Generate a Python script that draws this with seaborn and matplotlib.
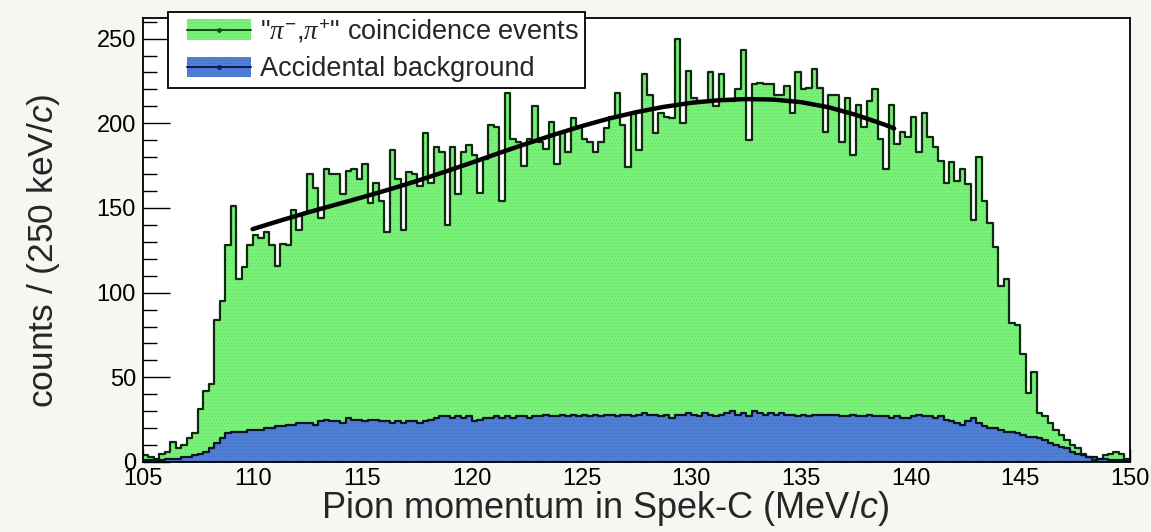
import numpy as np
import pandas as pd
import matplotlib
matplotlib.use('Agg')
import matplotlib.pyplot as plt
import seaborn as sns
from matplotlib.patches import Rectangle
from matplotlib.lines import Line2D
from matplotlib.legend_handler import HandlerBase
from matplotlib.ticker import MultipleLocator

# Histogram range: 105 - 150 MeV/c in 250 keV/c bins
p_min, p_max, bin_width = 105.0, 150.0, 0.25

# "pi-,pi+" coincidence events per bin
coincidence_counts = [
    4, 3, 2, 5, 6, 12, 8, 10, 14, 17,
    31, 42, 46, 84, 95, 128, 151, 108, 115, 128,
    134, 132, 136, 128, 116, 129, 128, 149, 137, 147,
    170, 162, 144, 173, 170, 170, 158, 172, 173, 167,
    176, 153, 165, 154, 136, 184, 167, 137, 171, 170,
    163, 194, 165, 186, 183, 140, 186, 158, 183, 187,
    181, 159, 179, 199, 198, 154, 218, 191, 189, 175,
    191, 210, 189, 185, 201, 176, 195, 183, 203, 198,
    191, 189, 183, 189, 197, 204, 218, 199, 174, 206,
    184, 229, 217, 194, 206, 204, 203, 250, 200, 231,
    215, 213, 213, 230, 210, 229, 213, 213, 220, 243,
    190, 223, 224, 223, 223, 217, 217, 222, 206, 230,
    220, 221, 232, 221, 195, 217, 217, 189, 215, 181,
    211, 198, 213, 220, 191, 173, 211, 188, 195, 192,
    204, 183, 206, 192, 186, 178, 165, 177, 166, 173,
    164, 143, 180, 154, 141, 127, 104, 108, 82, 81,
    64, 41, 53, 29, 27, 23, 19, 16, 13, 10,
    8, 5, 3, 1, 2, 4, 5, 6, 5, 2,
]

# accidental background per bin
background_counts = [
    1, 1, 1, 1, 2, 2, 2, 3, 3, 4,
    5, 6, 8, 11, 14, 17, 18, 18, 18, 19,
    19, 19, 20, 20, 21, 21, 22, 22, 23, 23,
    23, 22, 24, 25, 24, 24, 23, 26, 25, 25,
    24, 25, 25, 24, 24, 23, 24, 23, 24, 24,
    23, 24, 25, 26, 27, 27, 26, 27, 26, 27,
    24, 25, 26, 26, 27, 26, 27, 26, 27, 27,
    26, 27, 27, 28, 27, 27, 28, 27, 28, 27,
    28, 27, 28, 27, 28, 28, 27, 28, 28, 27,
    28, 29, 28, 28, 27, 28, 26, 28, 28, 29,
    28, 27, 29, 28, 27, 28, 29, 30, 28, 29,
    27, 30, 29, 28, 29, 28, 29, 28, 28, 27,
    28, 27, 28, 28, 28, 28, 28, 27, 27, 28,
    27, 27, 28, 27, 27, 27, 26, 27, 26, 26,
    27, 28, 27, 27, 26, 27, 25, 24, 23, 22,
    24, 26, 23, 21, 20, 20, 19, 18, 18, 17,
    16, 15, 15, 14, 13, 11, 10, 9, 8, 6,
    5, 4, 3, 3, 2, 2, 1, 1, 1, 1,
]

# fit curve sampled along its length
fit_momentum = [110, 111.25, 112.5, 113.75, 115, 116.25, 117.5, 118.75, 120, 121.25,
                122.5, 123.75, 125, 126.25, 127.5, 128.75, 130, 131.25, 132.5, 133.75,
                135, 136.25, 137.5, 138.75, 139.25]
fit_counts = [137.5, 142.5, 147.3, 151.8, 156.3, 161, 166, 171.3, 176.8, 182.5,
              188, 193.3, 198.3, 202.8, 206.6, 209.7, 212.1, 213.6, 214.3, 214,
              212.5, 209.5, 205, 199.5, 197]

edges = np.arange(p_min, p_max + bin_width / 2, bin_width)
centers = (edges[:-1] + edges[1:]) / 2
bin_list = edges.tolist()
hist = pd.DataFrame({'p': centers, 'total': coincidence_counts, 'bkg': background_counts})

green = '#7af27a'
green_dots = '#68de68'
green_edge = '#0f2a0f'
blue = '#4f80d6'
blue_dots = '#4170c6'
blue_edge = '#0b1424'


class LegendKey:
    def __init__(self, face, dots, line):
        self.face, self.dots, self.line = face, dots, line


class KeyHandler(HandlerBase):
    # filled box with the histogram line through its middle, inset from the left
    def create_artists(self, legend, orig_handle, xdescent, ydescent, width, height,
                       fontsize, trans):
        inset = 0.17 * width
        x0 = -xdescent + inset
        w = width - inset
        ymid = -ydescent + height / 2
        box = Rectangle((x0, -ydescent), w, height, facecolor=orig_handle.face,
                        edgecolor=orig_handle.dots, hatch='.....', linewidth=0,
                        transform=trans)
        line = Line2D([x0, x0 + w], [ymid, ymid], color=orig_handle.line,
                      linewidth=1.5, transform=trans)
        dot = Line2D([x0 + w / 2], [ymid], marker='o', markersize=2.5, linestyle='none',
                     color=orig_handle.line, transform=trans)
        return [box, line, dot]


sns.set_theme(style='ticks')
plt.rcParams['font.family'] = ['Liberation Sans', 'DejaVu Sans']
plt.rcParams['mathtext.fontset'] = 'custom'
plt.rcParams['mathtext.rm'] = 'Liberation Sans'
plt.rcParams['mathtext.it'] = 'Liberation Serif:italic'
plt.rcParams['mathtext.sf'] = 'Liberation Sans:italic'
plt.rcParams['hatch.linewidth'] = 0.6

fig = plt.figure(figsize=(11.51, 5.32), dpi=100, facecolor='#f7f6f2')
ax = fig.add_axes([0.1242, 0.1316, 0.8575, 0.834])
ax.set_facecolor('white')

# filled areas with a fine dot texture
sns.histplot(data=hist, x='p', weights='total', bins=bin_list, element='step', fill=True,
             color=green, alpha=1, edgecolor=green_dots, linewidth=0, hatch='.....', ax=ax)
sns.histplot(data=hist, x='p', weights='bkg', bins=bin_list, element='step', fill=True,
             color=blue, alpha=1, edgecolor=blue_dots, linewidth=0, hatch='.....', ax=ax)
# outlines
sns.histplot(data=hist, x='p', weights='total', bins=bin_list, element='step', fill=False,
             color=green_edge, linewidth=1.6, ax=ax)
sns.histplot(data=hist, x='p', weights='bkg', bins=bin_list, element='step', fill=False,
             color=blue_edge, linewidth=1.6, ax=ax)
# fit
sns.lineplot(x=fit_momentum, y=fit_counts, color='black', linewidth=3.2, ax=ax, zorder=5)

ax.set_xlim(p_min, p_max)
ax.set_ylim(0, 262)
ax.xaxis.set_major_locator(MultipleLocator(5))
ax.xaxis.set_minor_locator(MultipleLocator(1))
ax.yaxis.set_major_locator(MultipleLocator(50))
ax.yaxis.set_minor_locator(MultipleLocator(10))
ax.tick_params(axis='both', which='both', direction='in', colors='black', labelsize=17,
               width=1.0)
ax.tick_params(axis='x', which='major', length=9.5, pad=4)
ax.tick_params(axis='x', which='minor', length=5)
ax.tick_params(axis='y', which='major', length=19.5, pad=5)
ax.tick_params(axis='y', which='minor', length=10)
for side in ax.spines.values():
    side.set_color('black')
    side.set_linewidth(1.3)

ax.set_xlabel(r'Pion momentum in Spek-C (MeV/$\mathsf{c}$)', fontsize=26)
ax.set_ylabel(r'counts / (250 keV/$\mathsf{c}$)', fontsize=25.5)
ax.xaxis.set_label_coords(0.468, -0.062)
ax.yaxis.set_label_coords(-0.082, 0.475)

handles = [LegendKey(green, green_dots, '#145214'), LegendKey(blue, blue_dots, '#101a5a')]
labels = ['"$\\pi^{-}$,$\\pi^{+}$" coincidence events', 'Accidental background']
leg = ax.legend(handles, labels, handler_map={LegendKey: KeyHandler()},
                loc='upper left', bbox_to_anchor=(0.0253, 1.0135), borderaxespad=0,
                fontsize=19.5, frameon=True, fancybox=False, framealpha=1,
                edgecolor='black', borderpad=0.2, handlelength=2.88, handleheight=0.8,
                handletextpad=0.33, labelspacing=0.42)
leg.get_frame().set_linewidth(1.3)
leg.set_zorder(10)

fig.savefig('out.png', dpi=100, facecolor=fig.get_facecolor())
